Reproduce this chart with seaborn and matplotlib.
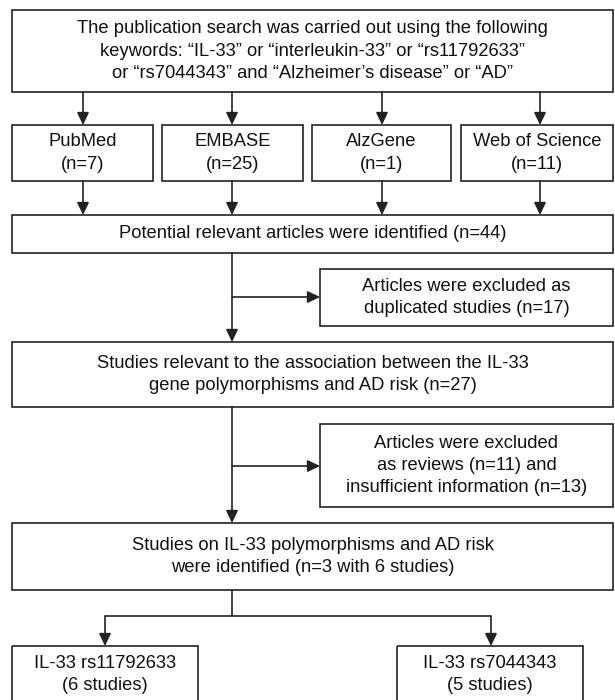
import matplotlib
matplotlib.use("Agg")
import matplotlib.pyplot as plt
import seaborn as sns
from matplotlib.patches import Rectangle

# Flowchart text and counts
search_text = ("The publication search was carried out using the following\n"
               "keywords: \u201cIL-33\u201d or \u201cinterleukin-33\u201d or \u201crs11792633\u201d\n"
               "or \u201crs7044343\u201d and \u201cAlzheimer\u2019s disease\u201d or \u201cAD\u201d")
source_names = ["PubMed", "EMBASE", "AlzGene", "Web of Science"]
source_counts = [7, 25, 1, 11]
identified_n = 44
duplicates_n = 17
relevant_n = 27
reviews_n = 11
insufficient_n = 13
included_articles = 3
included_studies = 6
snp_names = ["IL-33 rs11792633", "IL-33 rs7044343"]
snp_studies = [6, 5]

sns.set_style("white")
plt.rcParams['font.family'] = ['Liberation Sans', 'DejaVu Sans']

fig = plt.figure(figsize=(6.15, 7.0), dpi=100)
ax = fig.add_axes([0, 0, 1, 1])
ax.set_xlim(0, 615)
ax.set_ylim(700, 0)
ax.axis("off")

LC = "#222222"
LW = 1.2
FS = 13.2


def box(x0, y0, x1, y1, text):
    ax.add_patch(Rectangle((x0, y0), x1 - x0, y1 - y0, fill=False,
                           edgecolor=LC, linewidth=LW))
    ax.text((x0 + x1) / 2, (y0 + y1) / 2, text, ha="center", va="center",
            fontsize=FS, color="#111111", linespacing=1.42)


def arrow(x0, y0, x1, y1):
    ax.annotate("", xy=(x1, y1), xytext=(x0, y0),
                arrowprops=dict(arrowstyle="-|>,head_length=0.75,head_width=0.36",
                                mutation_scale=10, color=LC, lw=LW,
                                shrinkA=0, shrinkB=0))


def line(xs, ys):
    ax.plot(xs, ys, color=LC, lw=LW, solid_capstyle="butt")


# top search box
box(12, 10, 613, 92, search_text)

# source databases
src_x = [(12, 153), (162, 303), (312, 451), (461, 613)]
arrow_x = [83, 232, 382, 540]
for (x0, x1), ax_x, name, n in zip(src_x, arrow_x, source_names, source_counts):
    box(x0, 125, x1, 181, f"{name}\n(n={n})")
    arrow(ax_x, 92, ax_x, 125)
    arrow(ax_x, 181, ax_x, 215)

box(12, 215, 613, 253, f"Potential relevant articles were identified (n={identified_n})")

# duplicates
arrow(232, 253, 232, 342)
arrow(232, 297, 320, 297)
box(320, 269, 613, 326, f"Articles were excluded as\nduplicated studies (n={duplicates_n})")

box(12, 342, 613, 407, "Studies relevant to the association between the IL-33\n"
                       f"gene polymorphisms and AD risk (n={relevant_n})")

# reviews / insufficient
arrow(232, 407, 232, 523)
arrow(232, 466, 320, 466)
box(320, 424, 613, 507, "Articles were excluded\n"
                        f"as reviews (n={reviews_n}) and\n"
                        f"insufficient information (n={insufficient_n})")

box(12, 523, 613, 590, "Studies on IL-33 polymorphisms and AD risk\n"
                       f"were identified (n={included_articles} with {included_studies} studies)")

# split to SNPs
line([232, 232], [590, 616])
line([105, 491], [616, 616])
arrow(105, 616, 105, 646)
arrow(491, 616, 491, 646)
box(12, 646, 198, 703, f"{snp_names[0]}\n({snp_studies[0]} studies)")
box(397, 646, 583, 703, f"{snp_names[1]}\n({snp_studies[1]} studies)")

fig.savefig("out.png", dpi=100)
